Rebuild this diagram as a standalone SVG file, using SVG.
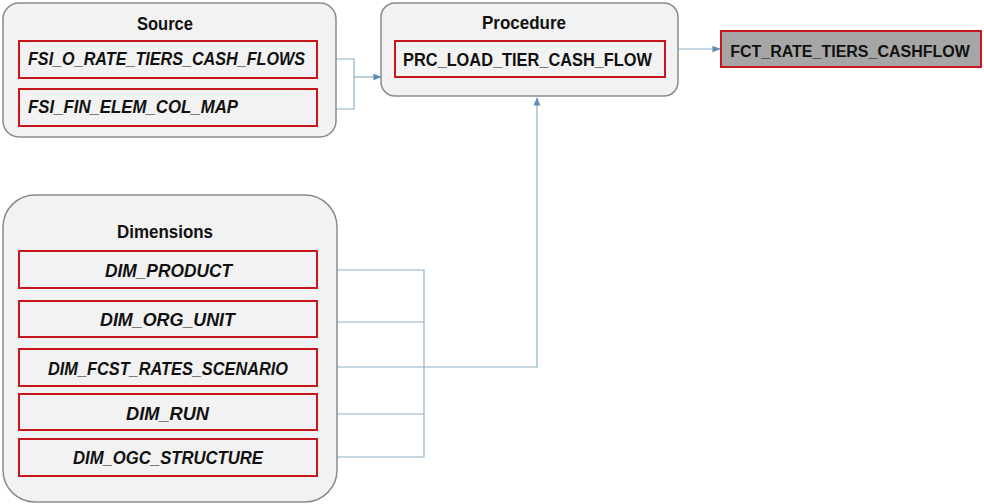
<svg xmlns="http://www.w3.org/2000/svg" width="984" height="504" viewBox="0 0 984 504">
  <style>
    .group { fill: #f2f2f2; stroke: #8a8a8a; stroke-width: 1.5; }
    .item { fill: #f2f2f2; stroke: #c8161d; stroke-width: 2; }
    .target { fill: #a6a6a6; stroke: #c8161d; stroke-width: 2; }
    .title { font-family: "Liberation Sans", Arial, sans-serif; font-weight: bold; font-size: 18px; fill: #111; text-anchor: middle; }
    .label { font-family: "Liberation Sans", Arial, sans-serif; font-weight: bold; font-style: italic; font-size: 18px; fill: #111; }
    .plain { font-family: "Liberation Sans", Arial, sans-serif; font-weight: bold; font-size: 18px; fill: #111; }
    .plain.small { font-size: 16px; text-anchor: middle; }
    .wire { fill: none; stroke: #8fb0c4; stroke-width: 1.2; }
  </style>
  <defs>
    <marker id="arrow" viewBox="0 0 10 10" refX="9" refY="5" markerWidth="7" markerHeight="7" orient="auto">
      <path d="M0,1 L10,5 L0,9 z" fill="#5b8db8"/>
    </marker>
  </defs>
  <rect width="984" height="504" fill="#ffffff"/>

  <!-- connectors -->
  <g id="connectors">
    <path class="wire" d="M317,59 H354 V109 H317"/>
    <path class="wire" d="M354,77 H381" marker-end="url(#arrow)"/>
    <path class="wire" d="M678,49 H720" marker-end="url(#arrow)"/>
    <path class="wire" d="M317,270 H424 V457 H317"/>
    <path class="wire" d="M317,322 H424"/>
    <path class="wire" d="M317,414 H424"/>
    <path class="wire" d="M317,367 H537 V98" marker-end="url(#arrow)"/>
  </g>

  <!-- source tables -->
  <g id="source">
    <rect class="group" x="3" y="3" width="333" height="134" rx="16"/>
    <text class="title" x="165" y="30" textLength="56" lengthAdjust="spacingAndGlyphs">Source</text>
    <g id="fsi_o_rate_tiers_cash_flows">
      <rect class="item" x="19" y="41" width="298" height="37"/>
      <text class="label" x="28" y="65" textLength="277" lengthAdjust="spacingAndGlyphs">FSI_O_RATE_TIERS_CASH_FLOWS</text>
    </g>
    <g id="fsi_fin_elem_col_map">
      <rect class="item" x="19" y="89" width="298" height="37"/>
      <text class="label" x="28" y="113" textLength="210" lengthAdjust="spacingAndGlyphs">FSI_FIN_ELEM_COL_MAP</text>
    </g>
  </g>

  <!-- procedure -->
  <g id="procedure">
    <rect class="group" x="381" y="3" width="297" height="93" rx="14"/>
    <text class="title" x="524" y="29" textLength="84" lengthAdjust="spacingAndGlyphs">Procedure</text>
    <g id="prc_load_tier_cash_flow">
      <rect class="item" x="395" y="41" width="270" height="36"/>
      <text class="plain" x="403" y="66" textLength="249" lengthAdjust="spacingAndGlyphs">PRC_LOAD_TIER_CASH_FLOW</text>
    </g>
  </g>

  <!-- target table -->
  <g id="fct_rate_tiers_cashflow">
    <rect class="target" x="721" y="31" width="260" height="36"/>
    <text class="plain small" x="850" y="57">FCT_RATE_TIERS_CASHFLOW</text>
  </g>

  <!-- dimension tables -->
  <g id="dimensions">
    <rect class="group" x="3" y="195" width="334" height="307" rx="32"/>
    <text class="title" x="165" y="238" textLength="96" lengthAdjust="spacingAndGlyphs">Dimensions</text>
    <g id="dim_product">
      <rect class="item" x="19" y="251" width="298" height="37"/>
      <text class="label" x="105" y="277" textLength="127" lengthAdjust="spacingAndGlyphs">DIM_PRODUCT</text>
    </g>
    <g id="dim_org_unit">
      <rect class="item" x="19" y="301" width="298" height="36"/>
      <text class="label" x="100" y="326" textLength="135" lengthAdjust="spacingAndGlyphs">DIM_ORG_UNIT</text>
    </g>
    <g id="dim_fcst_rates_scenario">
      <rect class="item" x="19" y="349" width="298" height="37"/>
      <text class="label" x="48" y="375" textLength="240" lengthAdjust="spacingAndGlyphs">DIM_FCST_RATES_SCENARIO</text>
    </g>
    <g id="dim_run">
      <rect class="item" x="19" y="394" width="298" height="36"/>
      <text class="label" x="126" y="420" textLength="83" lengthAdjust="spacingAndGlyphs">DIM_RUN</text>
    </g>
    <g id="dim_ogc_structure">
      <rect class="item" x="19" y="439" width="298" height="37"/>
      <text class="label" x="73" y="464" textLength="190" lengthAdjust="spacingAndGlyphs">DIM_OGC_STRUCTURE</text>
    </g>
  </g>
</svg>
